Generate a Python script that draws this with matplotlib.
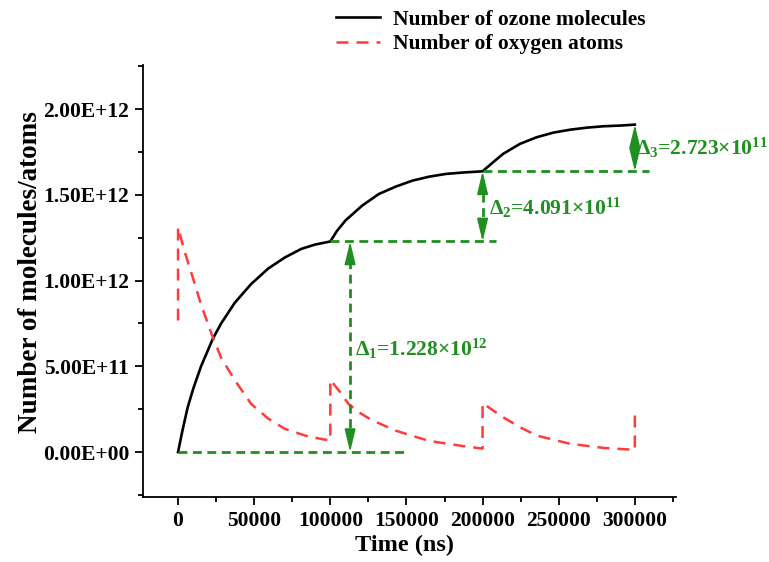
import numpy as np
import matplotlib
matplotlib.use('Agg')
import matplotlib.pyplot as plt
from matplotlib.ticker import MultipleLocator, FuncFormatter

plt.rcParams['font.family'] = ['Liberation Serif', 'DejaVu Serif']
plt.rcParams['font.weight'] = 'bold'
plt.rcParams['mathtext.fontset'] = 'custom'
plt.rcParams['mathtext.rm'] = 'Liberation Serif:bold'
plt.rcParams['mathtext.it'] = 'Liberation Serif:bold'
plt.rcParams['mathtext.bf'] = 'Liberation Serif:bold'

# pulse increments of ozone (units of 1e12)
deltas = [1.228, 0.4091, 0.2723]
delta_labels = [r'Δ$_1$=1.228×10$^{12}$', r'Δ$_2$=4.091×10$^{11}$', r'Δ$_3$=2.723×10$^{11}$']

# ozone molecules vs time (ns), units of 1e12
ozone_t = [0, 3000, 6300, 10000, 15100, 22800, 28300, 37200, 48000, 59200, 70200, 81000, 90000, 100000,
           104400, 109900, 120900, 131900, 143000, 154000, 165000, 176000, 187000, 200000,
           206900, 213500, 224500, 235600, 246600, 257600, 268700, 279600, 290700, 300000]
ozone_v = [0, 0.13, 0.26, 0.37, 0.50, 0.66, 0.75, 0.87, 0.98, 1.07, 1.135, 1.185, 1.21, 1.228,
           1.29, 1.350, 1.437, 1.505, 1.548, 1.583, 1.606, 1.622, 1.630, 1.6371,
           1.69, 1.739, 1.797, 1.836, 1.863, 1.880, 1.892, 1.900, 1.904, 1.9094]

# oxygen atoms vs time (ns), units of 1e12
oxygen_t = [0, 0, 4100, 9600, 15100, 22800, 28300, 37200, 48100, 59200, 70200, 85600, 100000,
            100000, 105500, 112000, 120000, 127500, 143000, 150000, 165000, 172000, 187000, 200000,
            200000, 213500, 224500, 235600, 257600, 279600, 299500, 300000, 300000]
oxygen_v = [0.767, 1.311, 1.175, 1.02, 0.86, 0.67, 0.55, 0.42, 0.28, 0.195, 0.135, 0.09, 0.067,
            0.421, 0.36, 0.28, 0.225, 0.185, 0.125, 0.105, 0.065, 0.055, 0.035, 0.02,
            0.285, 0.203, 0.145, 0.096, 0.048, 0.024, 0.013, 0.012, 0.242]

scale = 1e12
green = '#1f8f1f'

fig = plt.figure(figsize=(7.69, 5.62), dpi=100)
ax = fig.add_axes([0.186, 0.1157, 0.693, 0.768])

ln1, = ax.plot(ozone_t, np.array(ozone_v) * scale, color='black', lw=1.9)
ln2, = ax.plot(oxygen_t, np.array(oxygen_v) * scale, color='#ff3b3b', lw=1.8, dashes=(4.8, 3.2))

# levels after each pulse
levels = np.cumsum([0] + deltas) * scale
gdash = dict(color=green, lw=2, dashes=(3.2, 2))
ax.plot([0, 150000], [levels[0]] * 2, **gdash)
ax.plot([100000, 209000], [levels[1]] * 2, **gdash)
ax.plot([200000, 309000], [levels[2]] * 2, **gdash)

arrow_x = [113000, 200000, 300000]
head = 0.06e12
for i in range(3):
    x = arrow_x[i]
    lo, hi = levels[i], levels[i + 1]
    ax.plot([x, x], [lo + head, hi - head], **gdash)
    for tip, tail in [(hi, hi - head * 1.3), (lo, lo + head * 1.3)]:
        ax.annotate('', xy=(x, tip), xytext=(x, tail),
                    arrowprops=dict(arrowstyle='-|>,head_length=1.0,head_width=0.24',
                                    color=green, lw=1.2, shrinkA=0, shrinkB=0, mutation_scale=14))

label_pos = [(116500, 0.60e12), (204500, 1.425e12), (301000, 1.775e12)]
for (x, y), s in zip(label_pos, delta_labels):
    ax.text(x, y, s, color=green, fontsize=15.5, fontweight='bold', ha='left', va='center')

ax.set_xlim(-23000, 327000)
ax.set_ylim(-0.262e12, 2.255e12)
ax.xaxis.set_major_locator(MultipleLocator(50000))
ax.xaxis.set_minor_locator(MultipleLocator(25000))
ax.yaxis.set_major_locator(MultipleLocator(0.5e12))
ax.yaxis.set_minor_locator(MultipleLocator(0.25e12))
ax.yaxis.set_major_formatter(FuncFormatter(lambda v, p: '%.2E' % v))

for s in ['top', 'right']:
    ax.spines[s].set_visible(False)
for s in ['left', 'bottom']:
    ax.spines[s].set_linewidth(1.3)
ax.tick_params(which='major', direction='out', length=6, width=1.3, labelsize=15.5, pad=4)
ax.tick_params(which='minor', direction='out', length=3.5, width=1.3)

ax.set_xlabel('Time (ns)', fontsize=17.5, fontweight='bold')
ax.set_ylabel('Number of molecules/atoms', fontsize=19.5, fontweight='bold')
ax.xaxis.set_label_coords(0.49, -0.088)
ax.yaxis.set_label_coords(-0.187, 0.521)

fig.legend([ln1, ln2], ['Number of ozone molecules', 'Number of oxygen atoms'],
           loc='upper left', bbox_to_anchor=(0.412, 1.017), frameon=False,
           prop={'weight': 'bold', 'size': 15.5}, handlelength=2.05, handletextpad=0.6,
           labelspacing=0.2)

fig.savefig('out.png', dpi=100)
